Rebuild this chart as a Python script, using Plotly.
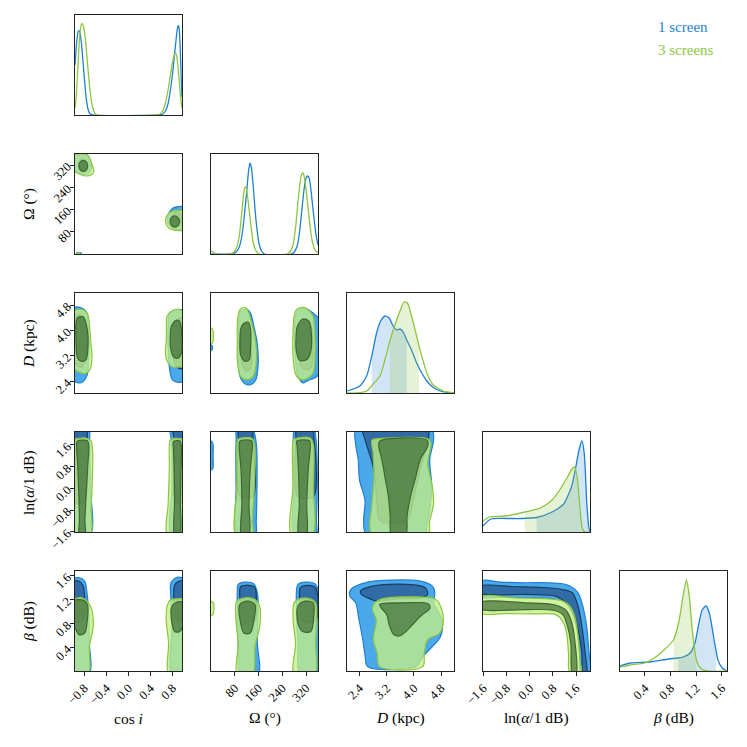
import plotly.graph_objects as go

# ---------------- data ----------------
PARAM_LABELS = ["cos <i>i</i>", "Ω (°)", "<i>D</i> (kpc)", "ln(<i>α</i>/1 dB)", "<i>β</i> (dB)"]
PARAM_RANGES = [(-0.97, 0.97), (0, 360), (2.03, 5.18), (-1.609, 2.079), (0.01, 1.68)]
TICK_VALS = [[-0.8, -0.4, 0.0, 0.4, 0.8], [80, 160, 240, 320], [2.4, 3.2, 4.0, 4.8],
             [-1.6, -0.8, 0.0, 0.8, 1.6], [0.4, 0.8, 1.2, 1.6]]
TICK_TEXT = [["−0.8", "−0.4", "0.0", "0.4", "0.8"], ["80", "160", "240", "320"],
             ["2.4", "3.2", "4.0", "4.8"], ["−1.6", "−0.8", "0.0", "0.8", "1.6"],
             ["0.4", "0.8", "1.2", "1.6"]]
SERIES = ["1 screen", "3 screens"]

# 1D marginals (relative height)
cos_x_b = [-0.97, -0.95, -0.93, -0.91, -0.89, -0.87, -0.85, -0.82, -0.79, -0.76, -0.73, -0.70, -0.65,
           0.55, 0.62, 0.67, 0.72, 0.76, 0.80, 0.83, 0.86, 0.88, 0.90, 0.92, 0.94, 0.96, 0.97]
cos_h_b = [0.50, 0.66, 0.78, 0.84, 0.84, 0.79, 0.70, 0.50, 0.30, 0.14, 0.05, 0.015, 0.0,
           0.0, 0.01, 0.04, 0.12, 0.25, 0.42, 0.58, 0.74, 0.84, 0.895, 0.86, 0.62, 0.30, 0.18]
cos_x_g = [-0.97, -0.95, -0.93, -0.91, -0.89, -0.87, -0.85, -0.83, -0.81, -0.78, -0.75, -0.72, -0.69,
           -0.66, -0.63, -0.60, -0.57, 0.50, 0.57, 0.62, 0.67, 0.72, 0.76, 0.80, 0.83, 0.85, 0.87,
           0.89, 0.91, 0.93, 0.95, 0.97]
cos_h_g = [0.07, 0.17, 0.35, 0.56, 0.75, 0.87, 0.91, 0.91, 0.87, 0.75, 0.56, 0.37, 0.21,
           0.10, 0.04, 0.012, 0.0, 0.0, 0.01, 0.04, 0.12, 0.26, 0.40, 0.53, 0.60, 0.62, 0.60,
           0.52, 0.40, 0.27, 0.15, 0.07]

om_x_b = [0, 70, 85, 95, 105, 112, 120, 126, 131, 136, 142, 148, 155, 162, 170, 180,
          270, 280, 290, 298, 305, 312, 318, 324, 330, 336, 342, 348, 354, 360]
om_h_b = [0.0, 0.0, 0.02, 0.07, 0.20, 0.38, 0.62, 0.82, 0.91, 0.86, 0.68, 0.45, 0.24, 0.10, 0.03, 0.0,
          0.0, 0.02, 0.08, 0.22, 0.42, 0.62, 0.74, 0.78, 0.76, 0.65, 0.48, 0.32, 0.18, 0.09]
om_x_g = [0, 8, 15, 65, 78, 88, 96, 102, 108, 113, 117, 122, 128, 135, 142, 150, 160,
          255, 265, 275, 284, 292, 299, 304, 309, 314, 320, 327, 334, 342, 350, 360]
om_h_g = [0.03, 0.02, 0.0, 0.0, 0.02, 0.08, 0.20, 0.37, 0.55, 0.66, 0.67, 0.60, 0.45, 0.27, 0.12, 0.04, 0.0,
          0.0, 0.02, 0.08, 0.25, 0.50, 0.70, 0.79, 0.81, 0.77, 0.64, 0.45, 0.26, 0.11, 0.04, 0.01]

d_x_b = [2.04, 2.41, 2.61, 2.76, 2.90, 3.02, 3.15, 3.27, 3.39, 3.50, 3.59, 3.70, 3.79, 3.94, 4.08,
         4.23, 4.38, 4.55, 4.77, 5.0, 5.19]
d_h_b = [0.02, 0.07, 0.17, 0.37, 0.60, 0.72, 0.77, 0.75, 0.67, 0.63, 0.64, 0.60, 0.53, 0.42, 0.30,
         0.20, 0.12, 0.06, 0.02, 0.005, 0.0]
d_x_g = [2.04, 2.32, 2.61, 2.80, 3.00, 3.20, 3.29, 3.39, 3.59, 3.71, 3.81, 3.93, 4.08, 4.15, 4.23,
         4.38, 4.57, 4.87, 5.19]
d_h_g = [0.0, 0.0, 0.02, 0.09, 0.17, 0.40, 0.52, 0.63, 0.82, 0.91, 0.90, 0.77, 0.57, 0.47, 0.37,
         0.20, 0.08, 0.02, 0.0]
d_band_b = (2.76, 3.79)
d_band_g = (3.29, 4.15)

a_x_b = [-1.609, -1.34, -0.8, -0.3, 0.235, 0.77, 1.17, 1.44, 1.57, 1.70, 1.80, 1.88, 1.97, 2.04, 2.079]
a_h_b = [0.06, 0.13, 0.135, 0.135, 0.145, 0.20, 0.28, 0.45, 0.62, 0.82, 0.91, 0.79, 0.28, 0.04, 0.0]
a_x_g = [-1.609, -1.395, -0.834, -0.166, 0.369, 0.77, 1.036, 1.303, 1.437, 1.544, 1.637, 1.731, 1.811,
         1.905, 2.079]
a_h_g = [0.11, 0.15, 0.16, 0.20, 0.24, 0.32, 0.42, 0.55, 0.62, 0.65, 0.55, 0.25, 0.04, 0.0, 0.0]
a_band_b = (0.235, 2.079)
a_band_g = (-0.166, 1.905)

b_x_b = [0.01, 0.174, 0.472, 0.77, 0.92, 0.994, 1.106, 1.18, 1.233, 1.292, 1.352, 1.404, 1.479, 1.51,
         1.538, 1.605, 1.68]
b_h_b = [0.05, 0.08, 0.09, 0.12, 0.13, 0.14, 0.18, 0.28, 0.45, 0.61, 0.65, 0.58, 0.31, 0.20,
         0.11, 0.03, 0.0]
b_x_g = [0.01, 0.174, 0.398, 0.547, 0.696, 0.845, 0.934, 0.994, 1.046, 1.091, 1.143, 1.203, 1.262,
         1.367, 1.68]
b_h_g = [0.04, 0.06, 0.08, 0.13, 0.21, 0.31, 0.51, 0.75, 0.91, 0.75, 0.38, 0.11, 0.03, 0.0, 0.0]
b_band_b = (0.92, 1.51)
b_band_g = (0.845, 1.203)

# 2D contours: outer (2) and inner (1) regions, per series (b = 1 screen, g = 3 screens)
# Omega vs cos i
cos_om_b2 = [[(-1.0, 365), (-0.80, 365), (-0.70, 340), (-0.67, 310), (-0.71, 292), (-0.82, 287), (-0.93, 293), (-1.0, 310)],
             [(0.70, 122), (0.74, 150), (0.82, 167), (0.93, 171), (1.02, 171), (1.02, 88), (0.88, 90), (0.76, 98)],
             [(-0.94, -5), (-0.94, 4), (-0.90, 6), (-0.86, 3), (-0.86, -5)]]
cos_om_b1 = [[(-0.74, 318), (-0.77, 336), (-0.83, 342), (-0.89, 334), (-0.90, 316), (-0.86, 302), (-0.80, 300)],
             [(0.78, 124), (0.82, 145), (0.90, 150), (0.95, 140), (0.95, 112), (0.90, 100), (0.82, 102)]]
cos_om_g2 = [[(-1.0, 356), (-0.747, 357), (-0.669, 326), (-0.627, 297), (-0.669, 285), (-0.79, 281), (-0.892, 288), (-1.0, 300)],
             [(0.675, 111), (0.687, 135), (0.777, 153), (0.928, 157), (1.02, 157), (1.02, 88), (0.867, 85), (0.735, 93)],
             [(-0.93, -5), (-0.93, 3), (-0.89, 4), (-0.87, -5)]]
cos_om_g1 = [[(-0.74, 317), (-0.763, 331), (-0.82, 337), (-0.877, 331), (-0.90, 317), (-0.877, 303), (-0.82, 297), (-0.763, 303)],
             [(0.923, 117), (0.898, 131), (0.838, 137), (0.778, 131), (0.753, 117), (0.778, 103), (0.838, 97), (0.898, 103)]]

# D vs cos i
cos_d_b2 = [[(-1.0, 4.708), (-0.85, 4.708), (-0.771, 4.603), (-0.729, 4.13), (-0.711, 3.5), (-0.729, 2.975), (-0.747, 2.608), (-0.819, 2.398), (-0.88, 2.345), (-1.0, 2.45)],
            [(0.747, 4.55), (0.868, 4.634), (1.02, 4.634), (1.02, 2.45), (0.898, 2.366), (0.795, 2.45), (0.747, 2.765), (0.717, 3.5), (0.717, 4.13)]]
cos_d_b1 = [[(-1.0, 4.445), (-0.831, 4.466), (-0.771, 4.13), (-0.759, 3.5), (-0.789, 3.028), (-0.85, 2.849), (-0.928, 2.891), (-1.0, 3.185)],
            [(0.838, 4.235), (0.928, 4.393), (1.02, 4.393), (1.02, 2.818), (0.898, 2.818), (0.819, 3.08), (0.807, 3.71)]]
cos_d_g2 = [[(-1.0, 4.603), (-0.831, 4.655), (-0.747, 4.55), (-0.711, 4.235), (-0.687, 3.71), (-0.663, 3.185), (-0.699, 2.765), (-0.789, 2.639), (-0.88, 2.681), (-1.0, 2.818)],
            [(0.699, 4.445), (0.777, 4.603), (0.898, 4.676), (0.958, 4.634), (1.02, 4.634), (1.02, 2.849), (0.928, 2.849), (0.807, 2.849), (0.717, 2.975), (0.669, 3.29), (0.687, 3.71), (0.687, 4.13)]]
cos_d_g1 = [[(-0.928, 4.393), (-0.819, 4.424), (-0.747, 4.025), (-0.735, 3.5), (-0.771, 3.08), (-0.85, 3.028), (-0.922, 3.133), (-0.952, 3.71)],
            [(0.777, 4.13), (0.868, 4.319), (0.928, 4.288), (0.958, 4.025), (0.958, 3.29), (0.898, 3.133), (0.819, 3.164), (0.759, 3.5), (0.759, 3.868)]]

# D vs Omega
om_d_b2 = [[(99.5, 4.603), (119.6, 4.676), (133, 4.55), (144.2, 4.13), (155.4, 3.605), (158.8, 2.975), (150.9, 2.45), (133, 2.293), (114, 2.324), (97.3, 2.555), (91.7, 3.29), (92.8, 4.13)],
           [(292.9, 4.655), (315.3, 4.708), (343.2, 4.55), (365, 4.34), (365, 3.5), (365, 2.66), (348.8, 2.503), (326.5, 2.429), (309.7, 2.345), (298.5, 2.45), (287.3, 2.765), (281.7, 3.5), (281.7, 4.235)],
           [(-5, 3.55), (4, 3.52), (4, 3.4), (-5, 3.38)]]
om_d_b1 = [[(108.4, 4.235), (125.2, 4.288), (133, 4.025), (136.4, 3.5), (133, 2.818), (119.6, 2.713), (106.2, 2.87), (99.5, 3.5), (101.7, 4.025)],
           [(298.5, 4.13), (320.9, 4.288), (337.6, 4.13), (343.2, 3.5), (337.6, 2.87), (320.9, 2.765), (304.1, 2.849), (296.3, 3.29), (294, 3.815)]]
om_d_g2 = [[(97.3, 4.655), (114, 4.729), (125.2, 4.603), (136.4, 4.235), (147.6, 3.815), (153.2, 3.185), (142, 2.555), (119.6, 2.45), (99.5, 2.555), (89.4, 2.975), (88.3, 3.71), (89.4, 4.34)],
           [(287.3, 4.655), (309.7, 4.729), (332, 4.603), (343.2, 4.445), (348.8, 4.025), (349.9, 3.185), (343.2, 2.66), (326.5, 2.503), (304.1, 2.45), (285.1, 2.608), (276.1, 3.185), (276.1, 4.025), (279.5, 4.445)],
           [(-5, 4.08), (5, 4.05), (8, 3.8), (5, 3.6), (-5, 3.6)]]
om_d_g1 = [[(106.2, 4.183), (125.2, 4.256), (133, 4.025), (133, 3.5), (128.6, 3.08), (114, 3.028), (99.5, 3.238), (97.3, 3.71), (99.5, 4.025)],
           [(290.7, 4.13), (309.7, 4.361), (329.8, 4.288), (337.6, 3.92), (334.3, 3.29), (320.9, 3.08), (298.5, 3.059), (287.3, 3.343), (286.2, 3.815)]]

# ln(alpha) vs cos i
cos_a_b2 = [[(-1.01, 2.18), (-0.719, 2.18), (-0.705, 1.804), (-0.691, 0.054), (-0.691, -1.696), (-1.01, -1.696)],
            [(0.761, 2.18), (1.02, 2.18), (1.02, -1.696), (0.775, -1.696), (0.789, 0.054), (0.775, 1.804)]]
cos_a_b1 = [[(-1.01, 2.18), (-0.761, 2.18), (-0.747, 1.866), (-0.75, 0.0), (-0.80, -0.5), (-1.01, -0.5)],
            [(0.809, 2.18), (1.02, 2.18), (1.02, -0.5), (0.86, -0.5), (0.83, 1.804)]]
cos_a_g2 = [[(-1.01, 1.779), (-0.914, 1.841), (-0.747, 1.841), (-0.677, 1.741), (-0.649, 1.304), (-0.656, 0.304), (-0.677, -0.696), (-0.691, -1.696), (-1.01, -1.696)],
            [(0.754, 1.779), (0.844, 1.854), (0.949, 1.829), (1.02, 1.804), (1.02, -1.696), (0.705, -1.696), (0.719, -0.571), (0.74, 0.679), (0.74, 1.554)]]
cos_a_g1 = [[(-0.93, 1.741), (-0.747, 1.754), (-0.72, 1.6), (-0.74, 0.8), (-0.77, -0.3), (-0.79, -1.2), (-0.79, -1.75), (-0.89, -1.75), (-0.89, -1.2), (-0.90, -0.3), (-0.92, 0.8), (-0.94, 1.55)],
            [(0.816, 1.729), (0.928, 1.754), (0.956, 1.6), (0.95, 0.5), (0.94, -0.5), (0.93, -1.75), (0.84, -1.75), (0.835, -0.5), (0.83, 0.5), (0.815, 1.45)]]

# ln(alpha) vs Omega
om_a_b2 = [[(87.1, 2.18), (139.1, 2.18), (152.1, 1.679), (154.7, 0.054), (152.1, -1.196), (149.5, -1.696), (89.7, -1.696), (84.5, 0.054), (84.5, 1.804)],
           [(282, 2.18), (344.4, 2.18), (353.5, 1.804), (357.4, 0.054), (354.8, -1.196), (353.5, -1.696), (282, -1.696), (279.4, 0.054), (276.8, 1.804)],
           [(-5, 1.75), (5, 1.7), (7, 1.2), (5, 0.7), (-5, 0.7)]]
om_a_b1 = [[(93.6, 2.18), (136.5, 2.18), (141.7, 1.679), (141, -0.3), (98, -0.3), (92.3, 1.804)],
           [(288.5, 2.18), (340.5, 2.18), (347, 1.804), (345, -0.3), (292, -0.3), (285.9, 1.804)]]
om_a_g2 = [[(89.7, 1.804), (106.6, 1.866), (139.1, 1.829), (146.9, 1.554), (145.6, 0.054), (139.1, -1.196), (139.1, -1.696), (84.5, -1.696), (87.1, 0.054), (87.1, 1.554)],
           [(278.1, 1.804), (295, 1.866), (334, 1.854), (344.4, 1.616), (344.4, 0.054), (340.5, -1.696), (271.6, -1.696), (275.5, 0.054), (274.2, 1.554)]]
om_a_g1 = [[(97.5, 1.741), (136.5, 1.754), (139.1, 1.554), (132, 0.679), (128, -0.571), (127, -1.75), (103, -1.75), (104, -0.571), (101, 0.679), (94.9, 1.554)],
           [(288.5, 1.741), (331.4, 1.754), (334, 1.554), (327, 0.679), (322, -0.571), (320, -1.75), (296, -1.75), (297, -0.571), (294, 0.679), (289.8, 1.554)]]

# ln(alpha) vs D
d_a_b2 = [[(2.30, 2.18), (4.523, 2.18), (4.579, 1.804), (4.466, 1.054), (4.523, 0.054), (4.409, -1.196), (4.296, -1.696), (2.60, -1.696), (2.52, -1.196), (2.56, -0.446), (2.40, 0.304), (2.36, 1.054), (2.28, 1.679)]]
d_a_b1 = [[(2.50, 2.18), (4.409, 2.18), (4.432, 1.866), (4.183, 0.679), (3.956, -0.571), (3.80, -1.2), (3.0, -1.2), (2.914, -0.571), (2.823, 0.679), (2.56, 1.804)]]
d_a_g2 = [[(2.766, 1.779), (3.05, 1.841), (4.409, 1.829), (4.5, 1.679), (4.409, 0.929), (4.545, 0.054), (4.579, -0.571), (4.466, -1.196), (4.409, -1.696), (2.766, -1.696), (2.766, -0.571), (2.823, 0.304), (2.8, 1.304)]]
d_a_g1 = [[(2.993, 1.741), (4.387, 1.779), (4.409, 1.554), (4.2, 1.1), (4.05, 0.4), (3.9, -0.3), (3.8, -1.0), (3.75, -1.75), (3.35, -1.75), (3.3, -1.0), (3.25, -0.3), (3.15, 0.4), (3.05, 1.1), (2.97, 1.5)]]

# beta vs cos i
cos_b_b2 = [[(-1.01, 1.54), (-0.90, 1.568), (-0.796, 1.512), (-0.753, 1.316), (-0.726, 1.036), (-0.709, 0.475), (-0.709, -0.03), (-1.01, -0.03)],
            [(0.77, 1.484), (0.857, 1.568), (0.97, 1.568), (1.02, 1.54), (1.02, -0.03), (0.788, -0.03), (0.788, 0.755), (0.77, 1.204)]]
cos_b_b1 = [[(-1.01, 1.495), (-0.90, 1.512), (-0.822, 1.428), (-0.796, 1.26), (-0.796, 0.95), (-0.85, 0.85), (-1.01, 0.85)],
            [(0.84, 1.456), (0.927, 1.512), (1.02, 1.512), (1.02, 0.85), (0.88, 0.85), (0.84, 1.0)]]
cos_b_g2 = [[(-1.01, 1.204), (-0.987, 1.215), (-0.84, 1.232), (-0.753, 1.176), (-0.666, 1.036), (-0.639, 0.755), (-0.709, 0.419), (-0.726, -0.03), (-1.01, -0.03)],
            [(0.70, 1.092), (0.77, 1.204), (0.90, 1.215), (1.02, 1.204), (1.02, -0.03), (0.727, -0.03), (0.727, 0.475), (0.683, 0.867)]]
cos_b_g1 = [[(-1.01, 1.176), (-0.813, 1.192), (-0.744, 1.12), (-0.753, 0.811), (-0.796, 0.643), (-0.90, 0.615), (-0.953, 0.699), (-1.01, 0.75)],
            [(0.788, 1.092), (0.874, 1.159), (1.02, 1.148), (1.02, 0.867), (0.927, 0.671), (0.84, 0.671), (0.788, 0.811)]]

# beta vs Omega
om_b_b2 = [[(91.6, 1.456), (115.7, 1.495), (143, 1.473), (155.9, 1.316), (159.1, 1.036), (155.9, 0.475), (163.9, 0.083), (159.1, -0.057), (99.6, -0.057), (91.6, 0.475), (88.4, 1.036), (88.4, 1.316)],
           [(292.5, 1.456), (319.8, 1.495), (348.7, 1.473), (360, 1.372), (365, 0.755), (365, -0.057), (300.5, -0.057), (292.5, 0.475), (287.7, 1.036)]]
om_b_b1 = [[(99.6, 1.417), (123.7, 1.439), (147.8, 1.4), (152.7, 1.204), (147.8, 0.85), (107.7, 0.85), (99.6, 1.1)],
           [(300.5, 1.4), (324.6, 1.439), (351.9, 1.4), (351.9, 0.85), (308.5, 0.85), (300.5, 1.1)]]
om_b_g2 = [[(86.8, 1.176), (115.7, 1.232), (147.8, 1.204), (163.9, 1.092), (163.9, 0.755), (147.8, 0.419), (139.8, -0.057), (88.4, -0.057), (91.6, 0.475), (83.6, 0.867)],
           [(279.6, 1.148), (300.5, 1.22), (332.6, 1.215), (351.9, 1.148), (351.9, 0.475), (348.7, -0.057), (279.6, -0.057), (284.4, 0.475), (276.4, 0.867)],
           [(-5, 1.17), (8, 1.15), (10, 1.05), (6, 0.95), (-5, 0.95)]]
om_b_g1 = [[(96.4, 1.12), (123.7, 1.176), (147.8, 1.12), (144.6, 0.867), (131.8, 0.643), (110.9, 0.643), (99.6, 0.811)],
           [(292.5, 1.092), (316.6, 1.176), (343.9, 1.148), (345.5, 0.923), (335.9, 0.671), (308.5, 0.671), (292.5, 0.811)]]

# beta vs D
d_b_b2 = [[(2.115, 1.26), (2.143, 1.372), (2.637, 1.495), (3.344, 1.529), (4.191, 1.512), (4.544, 1.428), (4.615, 1.316), (4.587, 1.148), (4.827, 0.867), (4.785, 0.587), (4.544, 0.419), (4.262, 0.251), (4.05, 0.083), (2.637, 0.083), (2.567, 0.251), (2.496, 0.531), (2.383, 0.867), (2.284, 1.148)]]
d_b_b1 = [[(2.426, 1.344), (2.779, 1.428), (3.767, 1.456), (4.333, 1.4), (4.403, 1.288), (4.191, 1.232), (3.485, 1.215), (2.92, 1.176), (2.637, 1.232), (2.454, 1.288)]]
d_b_g2 = [[(2.849, 1.148), (3.061, 1.215), (3.767, 1.248), (4.615, 1.215), (4.785, 1.092), (4.869, 0.867), (4.756, 0.643), (4.403, 0.531), (4.304, 0.307), (4.262, 0.083), (2.991, 0.083), (2.92, 0.307), (2.807, 0.531), (2.892, 0.867), (2.779, 1.036)]]
d_b_g1 = [[(2.991, 1.12), (3.767, 1.148), (4.403, 1.136), (4.474, 1.064), (4.191, 0.923), (3.909, 0.755), (3.767, 0.671), (3.598, 0.598), (3.414, 0.615), (3.273, 0.783), (3.202, 0.951), (3.061, 1.047)]]

# beta vs ln(alpha)
a_b_b2 = [[(-1.691, 1.512), (-1.0, 1.495), (-0.177, 1.484), (0.647, 1.484), (1.141, 1.467), (1.387, 1.428), (1.667, 1.316), (1.832, 1.092), (1.964, 0.755), (2.046, 0.307), (2.095, -0.03), (1.766, -0.03), (1.717, 0.307), (1.634, 0.699), (1.47, 0.98), (1.223, 1.159), (0.811, 1.215), (-0.177, 1.232), (-1.0, 1.243), (-1.691, 1.248)]]
a_b_b1 = [[(-1.691, 1.428), (-0.506, 1.417), (0.647, 1.4), (1.223, 1.361), (1.47, 1.316), (1.667, 1.092), (1.799, 0.755), (1.914, 0.307), (1.964, -0.03), (1.832, -0.03), (1.799, 0.307), (1.667, 0.699), (1.519, 0.951), (1.305, 1.12), (0.894, 1.26), (-0.177, 1.288), (-1.691, 1.316)]]
a_b_g2 = [[(-1.691, 1.248), (-0.506, 1.232), (0.647, 1.215), (1.141, 1.176), (1.387, 1.092), (1.552, 0.923), (1.667, 0.587), (1.733, 0.195), (1.766, -0.03), (1.387, -0.03), (1.338, 0.307), (1.272, 0.643), (1.141, 0.839), (0.894, 0.951), (0.153, 0.963), (-0.835, 0.968), (-1.691, 0.98)]]
a_b_g1 = [[(-1.691, 1.159), (-0.177, 1.148), (0.811, 1.12), (1.223, 1.036), (1.42, 0.867), (1.552, 0.531), (1.601, -0.03), (1.47, -0.03), (1.42, 0.475), (1.305, 0.755), (1.141, 0.951), (0.811, 1.024), (-0.177, 1.036), (-1.691, 1.047)]]

# ---------------- styling / layout ----------------
W = H = 747
COLS = [(75, 182), (211, 318), (347, 454), (483, 590), (620, 727)]
ROWS = [(15, 115), (154, 254), (293, 393), (432, 532), (571, 671)]
FONT = "Liberation Serif"
BLUE = "#1f7fd6"
GREEN = "#8cc63f"
B2_FILL, B1_FILL = "rgba(55,160,232,0.9)", "rgba(40,85,140,0.72)"
G2_FILL, G1_FILL = "rgba(195,238,135,0.78)", "rgba(60,105,50,0.68)"
B1_LINE, G1_LINE = "#173f66", "#3c6a2c"

fig = go.Figure()


def ax_names(r, c):
    k = r * 5 + c + 1
    return ("x" if k == 1 else f"x{k}"), ("y" if k == 1 else f"y{k}"), k


def add_polys(polys, r, c, fill, line):
    xa, ya, _ = ax_names(r, c)
    xs, ys = [], []
    for p in polys:
        for (a, b) in p:
            xs.append(a)
            ys.append(b)
        xs.append(p[0][0])
        ys.append(p[0][1])
        xs.append(None)
        ys.append(None)
    fig.add_trace(go.Scatter(x=xs, y=ys, mode="lines", fill="toself", fillcolor=fill,
                             line=dict(color=line, width=1.2, shape="spline", smoothing=0.9),
                             xaxis=xa, yaxis=ya, hoverinfo="skip", showlegend=False))


def add_1d(xv, hv, r, color, band=None, fillc=None):
    xa, ya, _ = ax_names(r, r)
    if band is not None:
        bx = [x for x in xv if band[0] <= x <= band[1]]
        bh = [h for x, h in zip(xv, hv) if band[0] <= x <= band[1]]
        fig.add_trace(go.Scatter(x=bx, y=bh, mode="lines", fill="tozeroy", fillcolor=fillc,
                                 line=dict(width=0, shape="spline", smoothing=0.6),
                                 xaxis=xa, yaxis=ya, hoverinfo="skip", showlegend=False))
    fig.add_trace(go.Scatter(x=xv, y=hv, mode="lines",
                             line=dict(color=color, width=1.3, shape="spline", smoothing=0.6),
                             xaxis=xa, yaxis=ya, hoverinfo="skip", showlegend=False))


panels = {
    (1, 0): (cos_om_b2, cos_om_b1, cos_om_g2, cos_om_g1),
    (2, 0): (cos_d_b2, cos_d_b1, cos_d_g2, cos_d_g1),
    (2, 1): (om_d_b2, om_d_b1, om_d_g2, om_d_g1),
    (3, 0): (cos_a_b2, cos_a_b1, cos_a_g2, cos_a_g1),
    (3, 1): (om_a_b2, om_a_b1, om_a_g2, om_a_g1),
    (3, 2): (d_a_b2, d_a_b1, d_a_g2, d_a_g1),
    (4, 0): (cos_b_b2, cos_b_b1, cos_b_g2, cos_b_g1),
    (4, 1): (om_b_b2, om_b_b1, om_b_g2, om_b_g1),
    (4, 2): (d_b_b2, d_b_b1, d_b_g2, d_b_g1),
    (4, 3): (a_b_b2, a_b_b1, a_b_g2, a_b_g1),
}
for (r, c), (b2, b1, g2, g1) in panels.items():
    add_polys(b2, r, c, B2_FILL, BLUE)
    add_polys(b1, r, c, B1_FILL, B1_LINE)
    add_polys(g2, r, c, G2_FILL, GREEN)
    add_polys(g1, r, c, G1_FILL, G1_LINE)

BAND_B, BAND_G = "rgba(31,127,214,0.2)", "rgba(140,198,63,0.22)"
add_1d(cos_x_b, cos_h_b, 0, BLUE)
add_1d(cos_x_g, cos_h_g, 0, GREEN)
add_1d(om_x_b, om_h_b, 1, BLUE)
add_1d(om_x_g, om_h_g, 1, GREEN)
add_1d(d_x_b, d_h_b, 2, BLUE, d_band_b, BAND_B)
add_1d(d_x_g, d_h_g, 2, GREEN, d_band_g, BAND_G)
add_1d(a_x_b, a_h_b, 3, BLUE, a_band_b, BAND_B)
add_1d(a_x_g, a_h_g, 3, GREEN, a_band_g, BAND_G)
add_1d(b_x_b, b_h_b, 4, BLUE, b_band_b, BAND_B)
add_1d(b_x_g, b_h_g, 4, GREEN, b_band_g, BAND_G)

layout = dict(width=W, height=H, margin=dict(l=0, r=0, t=0, b=0, pad=0, autoexpand=False),
              template="none", paper_bgcolor="white", plot_bgcolor="white", showlegend=False)
tickfont = dict(family=FONT, size=12.5, color="black")
for r in range(5):
    for c in range(r + 1):
        xa, ya, k = ax_names(r, c)
        suffix = "" if k == 1 else str(k)
        layout["xaxis" + suffix] = dict(
            domain=[COLS[c][0] / W, COLS[c][1] / W], anchor=ya, range=list(PARAM_RANGES[c]),
            automargin=False,
            showline=True, mirror=True, linecolor="#222", linewidth=1, showgrid=False, zeroline=False,
            ticks="outside" if r == 4 else "", ticklen=4, tickcolor="#222",
            showticklabels=(r == 4), tickvals=TICK_VALS[c], ticktext=TICK_TEXT[c],
            tickangle=-45, tickfont=tickfont, fixedrange=True)
        yr = [0, 1.0] if r == c else list(PARAM_RANGES[r])
        show_y = (c == 0 and r > 0)
        layout["yaxis" + suffix] = dict(
            domain=[1 - ROWS[r][1] / H, 1 - ROWS[r][0] / H], anchor=xa, range=yr,
            automargin=False,
            showline=True, mirror=True, linecolor="#222", linewidth=1, showgrid=False, zeroline=False,
            ticks="outside" if show_y else "", ticklen=4, tickcolor="#222",
            showticklabels=show_y, tickvals=TICK_VALS[r], ticktext=TICK_TEXT[r],
            tickangle=-45, tickfont=tickfont, fixedrange=True)

annotations = []
for c in range(5):
    annotations.append(dict(x=(COLS[c][0] + COLS[c][1]) / 2 / W, y=1 - 718 / H, xref="paper", yref="paper",
                            text=PARAM_LABELS[c], showarrow=False, xanchor="center", yanchor="middle",
                            font=dict(family=FONT, size=15.5, color="black")))
for r in range(1, 5):
    annotations.append(dict(x=29 / W, y=1 - (ROWS[r][0] + ROWS[r][1]) / 2 / H, xref="paper", yref="paper",
                            text=PARAM_LABELS[r], showarrow=False, textangle=-90, xanchor="center",
                            yanchor="middle", font=dict(family=FONT, size=15.5, color="black")))
annotations.append(dict(x=656 / W, y=1 - 27 / H, xref="paper", yref="paper", text=SERIES[0],
                        showarrow=False, xanchor="left", yanchor="middle",
                        font=dict(family=FONT, size=15, color=BLUE)))
annotations.append(dict(x=656 / W, y=1 - 50 / H, xref="paper", yref="paper", text=SERIES[1],
                        showarrow=False, xanchor="left", yanchor="middle",
                        font=dict(family=FONT, size=15, color=GREEN)))
layout["annotations"] = annotations
fig.update_layout(**layout)
fig.write_html("out.html", config={"displayModeBar": False, "staticPlot": True},
               post_script="document.body.style.margin='0px';")
